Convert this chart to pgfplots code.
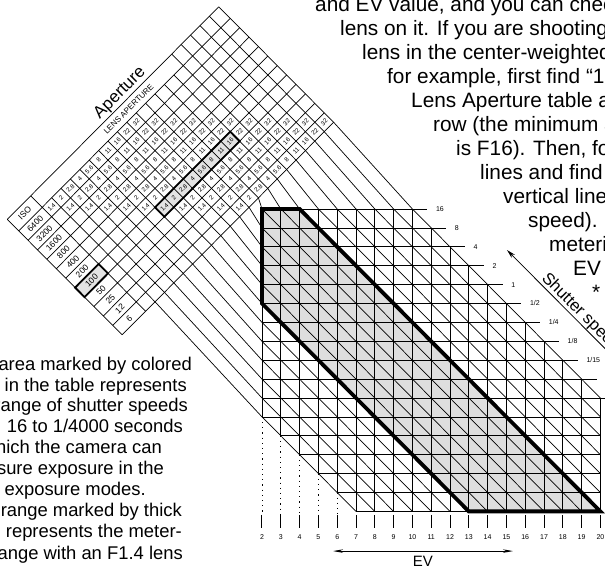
\documentclass[border=0pt]{standalone}
\usepackage{fontspec}
\setmainfont{Liberation Sans}
\usepackage{pgfplots}
\pgfplotsset{compat=1.18}
\usetikzlibrary{arrows.meta}
\tikzset{
  gl/.style={black,line width=0.7pt,mark=none},
  numlab/.style={font=\fontsize{6.2}{7}\selectfont,rotate=45,inner sep=0pt},
  isolab/.style={font=\fontsize{8.5}{9}\selectfont,rotate=45,inner sep=0pt},
  rtext/.style={anchor=base west,font=\fontsize{20.8}{24}\selectfont,inner sep=0pt},
  ltext/.style={anchor=base east,font=\fontsize{18.4}{21}\selectfont,inner sep=0pt},
  smalllab/.style={font=\fontsize{7}{8}\selectfont,inner sep=0pt},
}
\begin{document}
\begin{tikzpicture}
\begin{axis}[x=18.8pt,y=18.9pt,
  xmin=-11.936,xmax=20.245,ymin=-14.995,ymax=15.058,
  hide axis, clip=false, unbounded coords=jump,
]
% shaded areas
\addplot[fill=black!13,draw=none] coordinates {(2,4)(4,4)(20,-12)(13,-12)(2,-1)} -- cycle;
\addplot[fill=black!11,draw=none] coordinates {(-7.44,-0.66)(-6.19,0.59)(-6.69,1.09)(-7.94,-0.16)} -- cycle;
\addplot[fill=black!11,draw=none] coordinates {(-3.19,3.59)(0.81,7.59)(0.31,8.09)(-3.69,4.09)} -- cycle;
% vertical grid lines
\addplot[gl] coordinates {
(2,-7)(2,4) (0,nan) (3,-8)(3,4) (0,nan) (4,-9)(4,4) (0,nan) (5,-10)(5,4) (0,nan)
(6,-11)(6,4) (0,nan) (7,-12)(7,4) (0,nan) (8,-12)(8,4) (0,nan) (9,-12)(9,4) (0,nan)
(10,-12)(10,4) (0,nan) (11,-12)(11,3) (0,nan) (12,-12)(12,2) (0,nan) (13,-12)(13,1) (0,nan)
(14,-12)(14,0) (0,nan) (15,-12)(15,-1) (0,nan) (16,-12)(16,-2) (0,nan) (17,-12)(17,-3) (0,nan)
(18,-12)(18,-4) (0,nan) (19,-12)(19,-5) (0,nan) (20,-12)(20,-6)
};
% horizontal grid lines (with shutter speed ticks)
\addplot[gl] coordinates {
(2,4)(10.8,4) (0,nan) (2,3)(11.8,3) (0,nan) (2,2)(12.8,2) (0,nan) (2,1)(13.8,1) (0,nan)
(2,0)(14.8,0) (0,nan) (2,-1)(15.8,-1) (0,nan) (2,-2)(16.8,-2) (0,nan) (2,-3)(17.8,-3) (0,nan)
(2,-4)(18.8,-4) (0,nan) (2,-5)(19.8,-5) (0,nan) (2,-6)(20.8,-6) (0,nan) (2,-7)(20,-7) (0,nan)
(3,-8)(20,-8) (0,nan) (4,-9)(20,-9) (0,nan) (5,-10)(20,-10) (0,nan) (6,-11)(20,-11) (0,nan)
(7,-12)(20,-12)
};
% aperture (diagonal) lines
\addplot[gl] coordinates {
(-9.19,4.59)(-3.69,-0.91)(2,-7)(7,-12) (0,nan)
(-8.69,5.09)(-3.19,-0.41)(2,-6)(8,-12) (0,nan)
(-8.19,5.59)(-2.69,0.09)(2,-5)(9,-12) (0,nan)
(-7.69,6.09)(-2.19,0.59)(2,-4)(10,-12) (0,nan)
(-7.19,6.59)(-1.69,1.09)(2,-3)(11,-12) (0,nan)
(-6.69,7.09)(-1.19,1.59)(2,-2)(12,-12) (0,nan)
(-6.19,7.59)(-0.69,2.09)(2,-1)(13,-12) (0,nan)
(-5.69,8.09)(-0.19,2.59)(2,0)(14,-12) (0,nan)
(-5.19,8.59)(0.31,3.09)(2,1)(15,-12) (0,nan)
(-4.69,9.09)(0.81,3.59)(2,2)(16,-12) (0,nan)
(-4.19,9.59)(1.31,4.09)(2,3)(17,-12) (0,nan)
(-3.69,10.09)(1.81,4.59)(2,4)(18,-12) (0,nan)
(-3.19,10.59)(2.31,5.09)(3,4)(19,-12) (0,nan)
(-2.69,11.09)(2.81,5.59)(4,4)(20,-12) (0,nan)
(-2.8,12.2)(3.31,6.09)(5,4)(20,-11) (0,nan)
(-2.3,12.7)(3.81,6.59)(6,4)(20,-10) (0,nan)
(-1.8,13.2)(4.31,7.09)(7,4)(20,-9) (0,nan)
(-1.3,13.7)(4.81,7.59)(8,4)(20,-8) (0,nan)
(-0.8,14.2)(5.31,8.09)(9,4)(20,-7) (0,nan)
(-0.3,14.7)(5.81,8.59)(10,4)(20,-6)
};
% table rows and edges
\addplot[gl] coordinates {
(-5.44,-2.66)(5.81,8.59) (0,nan) (-5.94,-2.16)(5.31,9.09) (0,nan)
(-6.44,-1.66)(4.81,9.59) (0,nan) (-6.94,-1.16)(4.31,10.09) (0,nan)
(-7.44,-0.66)(3.81,10.59) (0,nan) (-7.94,-0.16)(3.31,11.09) (0,nan)
(-8.44,0.34)(2.81,11.59) (0,nan) (-8.94,0.84)(2.31,12.09) (0,nan)
(-9.44,1.34)(1.81,12.59) (0,nan) (-9.94,1.84)(1.31,13.09) (0,nan)
(-10.44,2.34)(0.81,13.59) (0,nan) (-10.94,2.84)(0.31,14.09) (0,nan)
(-11.55,3.45)(-0.3,14.7) (0,nan)
(-11.55,3.45)(-5.44,-2.66) (0,nan)
(-10.3,4.7)(-4.19,-1.41)
};
% dotted extensions
\addplot[black,line width=0.9pt,dash pattern=on 1.2pt off 4pt,mark=none] coordinates {
(2,-7)(2,-12.19) (0,nan) (3,-8)(3,-12.19) (0,nan) (4,-9)(4,-12.19) (0,nan)
(5,-10)(5,-12.19) (0,nan) (6,-11)(6,-12.19)
};
% EV ticks
\addplot[black,line width=1pt,mark=none] coordinates {
(2,-12.19)(2,-12.88) (0,nan) (3,-12.19)(3,-12.88) (0,nan) (4,-12.19)(4,-12.88) (0,nan)
(5,-12.19)(5,-12.88) (0,nan) (6,-12.19)(6,-12.88) (0,nan) (7,-12.19)(7,-12.88) (0,nan)
(8,-12.19)(8,-12.88) (0,nan) (9,-12.19)(9,-12.88) (0,nan) (10,-12.19)(10,-12.88) (0,nan)
(11,-12.19)(11,-12.88) (0,nan) (12,-12.19)(12,-12.88) (0,nan) (13,-12.19)(13,-12.88) (0,nan)
(14,-12.19)(14,-12.88) (0,nan) (15,-12.19)(15,-12.88) (0,nan) (16,-12.19)(16,-12.88) (0,nan)
(17,-12.19)(17,-12.88) (0,nan) (18,-12.19)(18,-12.88) (0,nan) (19,-12.19)(19,-12.88) (0,nan)
(20,-12.19)(20,-12.88)
};
% thick outlines
\addplot[black,line width=3.8pt,line join=miter,mark=none] coordinates {(2,4)(4,4)(20,-12)(13,-12)(2,-1)} -- cycle;
\addplot[black,line width=1.8pt,line join=miter,mark=none] coordinates {(-7.44,-0.66)(-6.19,0.59)(-6.69,1.09)(-7.94,-0.16)} -- cycle;
\addplot[black,line width=1.8pt,line join=miter,mark=none] coordinates {(-3.19,3.59)(0.81,7.59)(0.31,8.09)(-3.69,4.09)} -- cycle;
% arrows
\addplot[black,line width=0.8pt,mark=none,{Stealth[length=9pt,width=4.5pt]}-] coordinates {(15.03,1.83)(20.5,-3.64)};
\addplot[black,line width=0.8pt,mark=none,{Stealth[length=10pt,width=3.5pt]}-{Stealth[length=10pt,width=3.5pt]}] coordinates {(5.78,-14.1)(15.35,-14.1)};
% EV tick labels
\pgfplotsinvokeforeach{2,...,20}{\node[smalllab] at (axis cs:#1,-13.35) {#1};}
% shutter speed labels
\node[smalllab,anchor=west] at (axis cs:11.25,4) {16};
\node[smalllab,anchor=west] at (axis cs:12.25,3) {8};
\node[smalllab,anchor=west] at (axis cs:13.25,2) {4};
\node[smalllab,anchor=west] at (axis cs:14.25,1) {2};
\node[smalllab,anchor=west] at (axis cs:15.25,0) {1};
\node[smalllab,anchor=west] at (axis cs:16.25,-1) {1/2};
\node[smalllab,anchor=west] at (axis cs:17.25,-2) {1/4};
\node[smalllab,anchor=west] at (axis cs:18.25,-3) {1/8};
\node[smalllab,anchor=west] at (axis cs:19.25,-4) {1/15};
\node[smalllab,anchor=west] at (axis cs:20.25,-5) {1/30};
% aperture numbers in the table
\foreach \r in {0,...,10}{
  \foreach \j/\lab in {0/1.4,1/2,2/2.8,3/4,4/5.6,5/8,6/11,7/16,8/22,9/32}{
    \pgfmathsetmacro\xx{(-18.38+2*\r+\j)/2}
    \pgfmathsetmacro\yy{(8.18+\j)/2}
    \edef\temp{\noexpand\node[numlab] at (axis cs:\xx,\yy) {\lab};}
    \temp
  }
}
% ISO column
\node[isolab] at (axis cs:-10.62,3.77) {ISO};
\foreach \r/\lab in {0/6400,1/3200,2/1600,3/800,4/400,5/200,6/100,7/50,8/25,9/12,10/6}{
  \pgfmathsetmacro\xx{-10.065+0.5*\r}
  \pgfmathsetmacro\yy{3.215-0.5*\r}
  \edef\temp{\noexpand\node[isolab] at (axis cs:\xx,\yy) {\lab};}
  \temp
}
\node[font=\fontsize{8}{9}\selectfont,rotate=45,inner sep=0pt] at (axis cs:-5.095,9.295) {LENS APERTURE};
\node[font=\fontsize{17}{19}\selectfont,rotate=45,inner sep=0pt] at (axis cs:-5.55,10.12) {Aperture};
\node[font=\fontsize{16.5}{18}\selectfont,rotate=-45,anchor=base west,inner sep=0pt] at (axis cs:16.84,0.3) {Shutter speed};
\node[font=\fontsize{15}{17}\selectfont,anchor=base,inner sep=0pt] at (axis cs:10.56,-14.94) {EV};
% right text block
\node[rtext] at (axis cs:4.819,14.423) {and EV value, and you can check};
\node[rtext] at (axis cs:6.149,13.153) {lens on it. If you are shooting};
\node[rtext] at (axis cs:7.319,11.884) {lens in the center-weighted};
\node[rtext] at (axis cs:8.649,10.614) {for example, first find “100”};
\node[rtext] at (axis cs:9.926,9.344) {Lens Aperture table and};
\node[rtext] at (axis cs:11.096,8.074) {row (the minimum aperture};
\node[rtext] at (axis cs:12.319,6.804) {is F16). Then, follow};
\node[rtext] at (axis cs:13.596,5.534) {lines and find the};
\node[rtext] at (axis cs:14.819,4.265) {vertical lines};
\node[rtext] at (axis cs:16.149,2.995) {speed). The};
\node[rtext] at (axis cs:17.266,1.725) {metering};
\node[rtext] at (axis cs:18.543,0.455) {EV range};
\node[rtext] at (axis cs:19.553,-0.815) {* The};
% left text block
\node[ltext] at (axis cs:-1.723,-4.519) {area marked by colored};
\node[ltext] at (axis cs:-1.989,-5.630) {in the table represents};
\node[ltext] at (axis cs:-1.936,-6.741) {range of shutter speeds};
\node[ltext] at (axis cs:-2.202,-7.852) {16 to 1/4000 seconds};
\node[ltext] at (axis cs:-3.319,-8.963) {which the camera can};
\node[ltext] at (axis cs:-3.213,-10.074) {measure exposure in the};
\node[ltext] at (axis cs:-4.170,-11.185) {exposure modes.};
\node[ltext] at (axis cs:-2.255,-12.296) {range marked by thick};
\node[ltext] at (axis cs:-2.255,-13.407) {represents the meter-};
\node[ltext] at (axis cs:-2.202,-14.519) {range with an F1.4 lens};
\end{axis}
\pgfresetboundingbox
\useasboundingbox (current axis.south west) rectangle (current axis.north east);
\end{tikzpicture}
\end{document}
